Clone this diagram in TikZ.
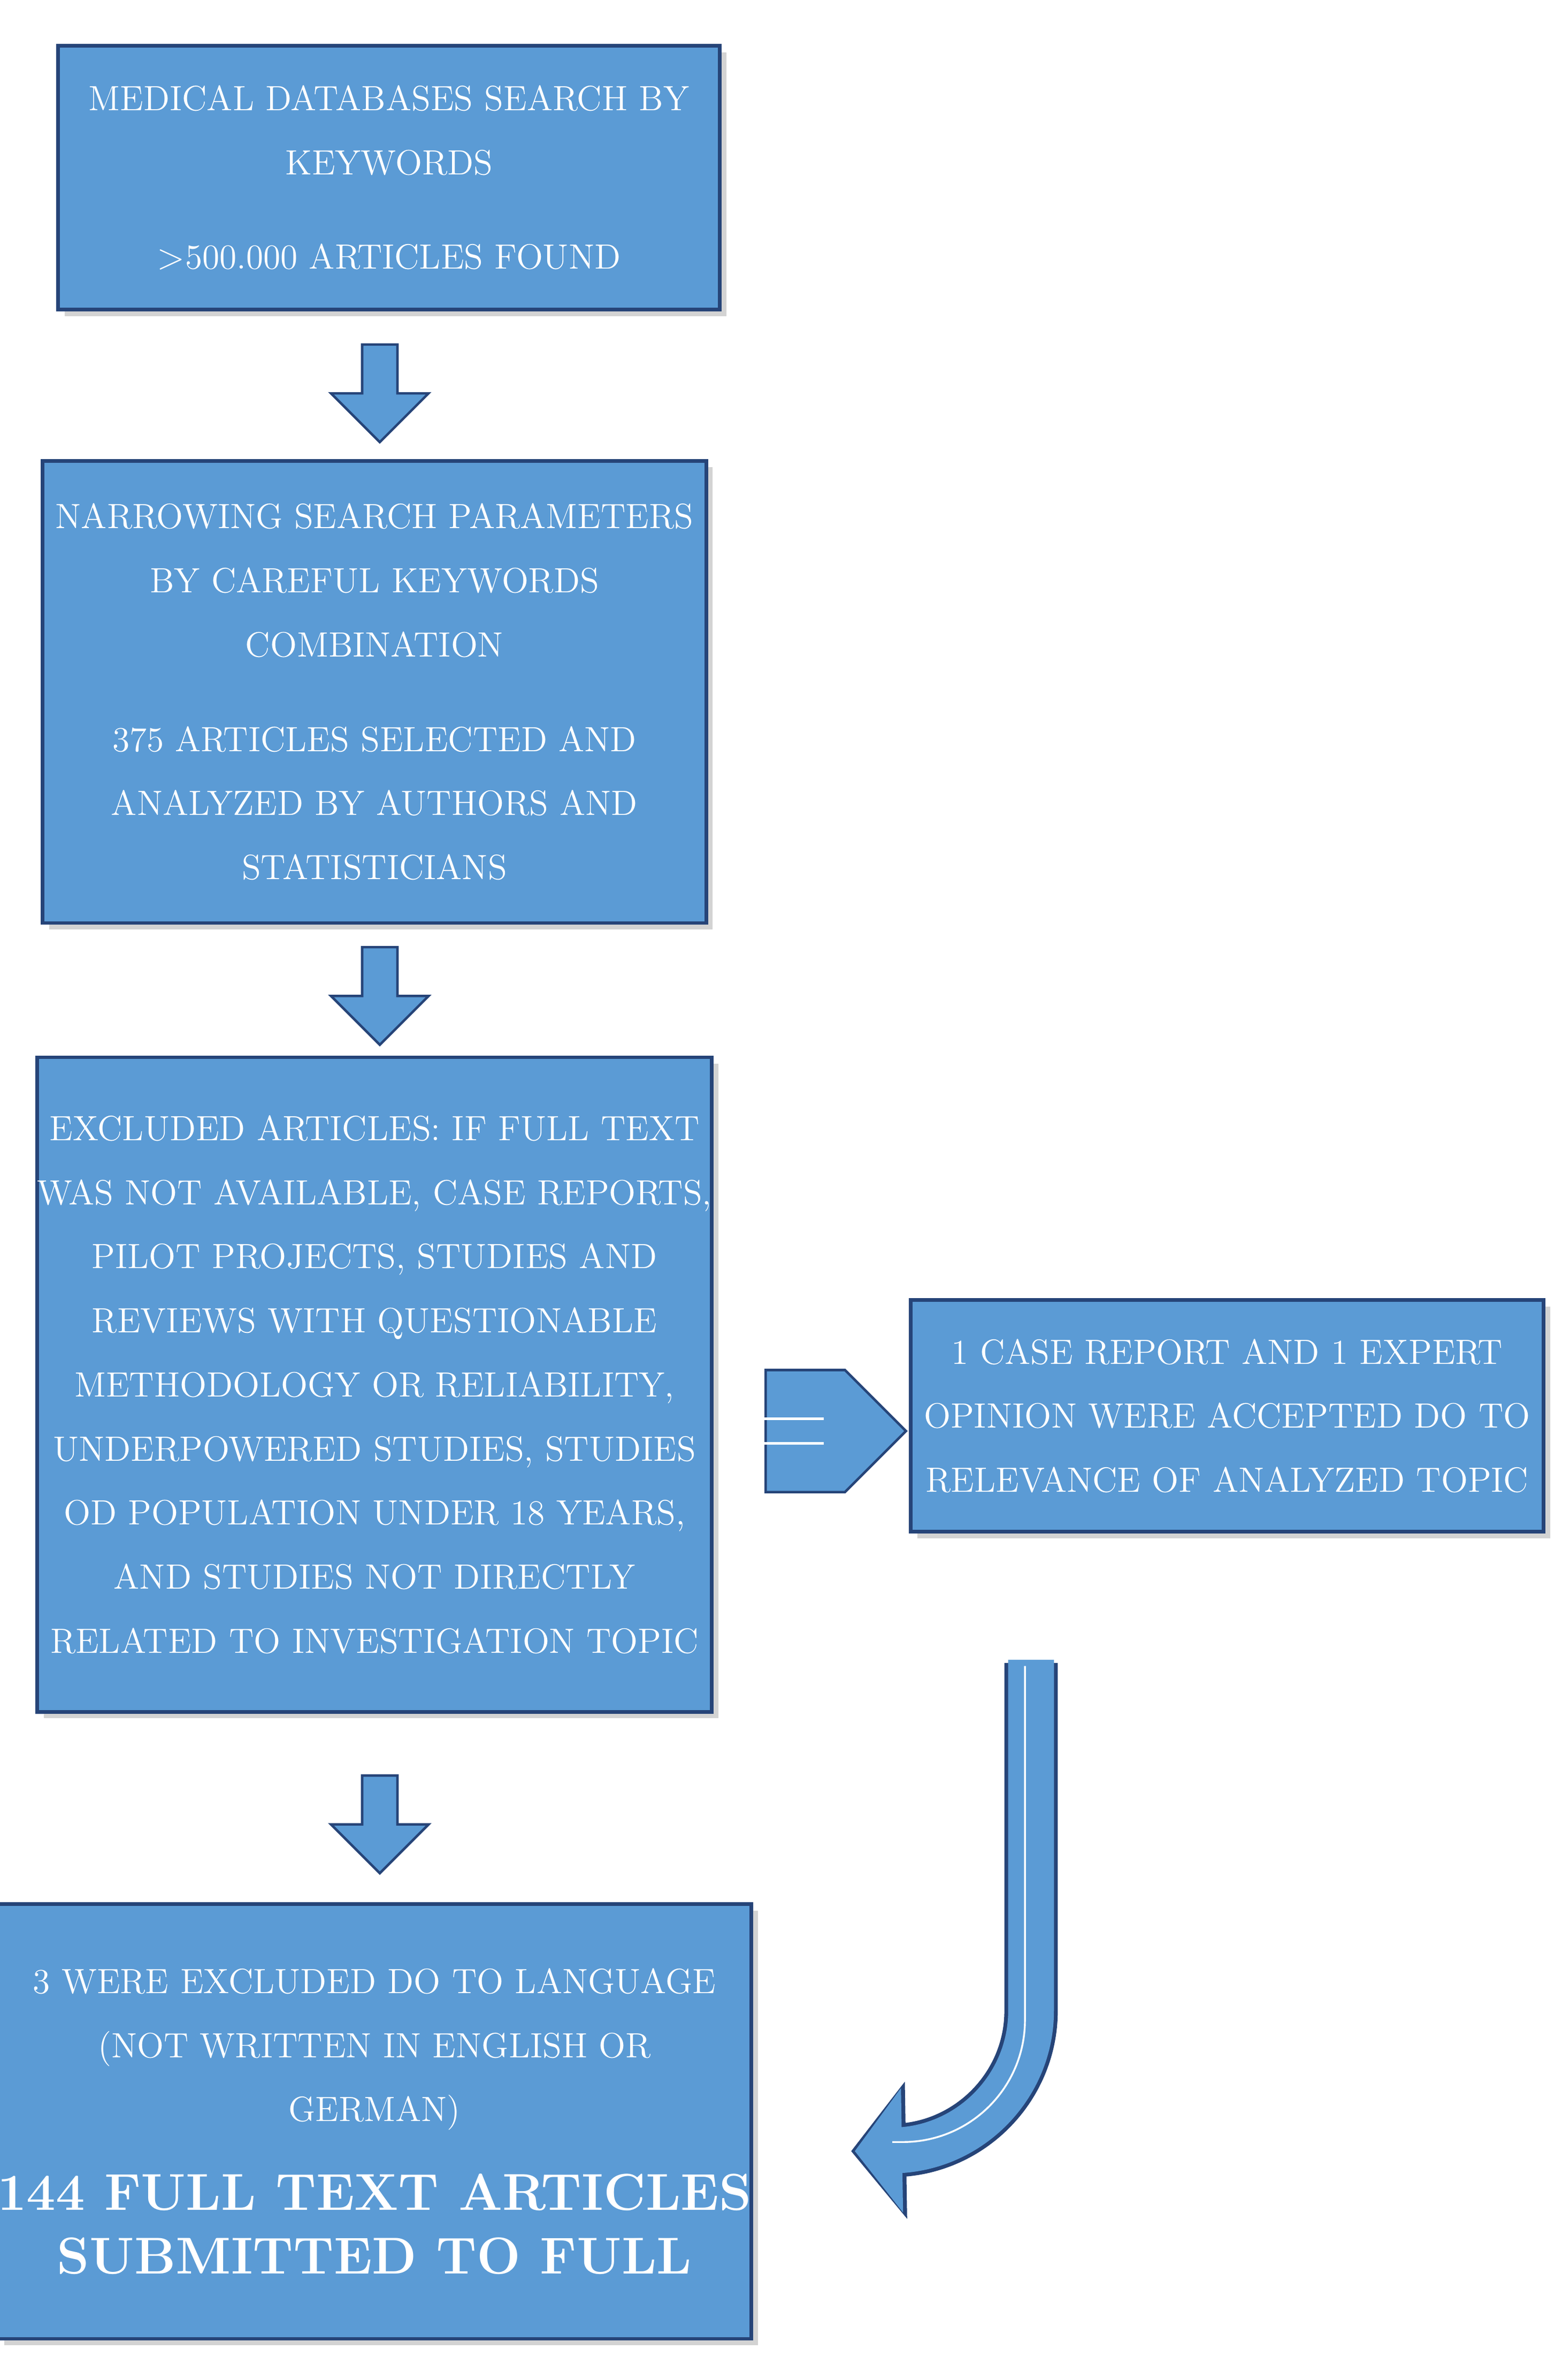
\documentclass[tikz,border=0pt]{standalone}
\usepackage{tikz}
\usetikzlibrary{shapes.arrows,arrows.meta,shadows}
\definecolor{boxblue}{RGB}{91,155,213}
\definecolor{edgeblue}{RGB}{38,68,120}
\tikzset{
  stepbox/.style={draw=edgeblue,line width=1.2pt,fill=boxblue,text=white,align=center,
    inner sep=0pt,font=\fontsize{11.5}{21}\selectfont,drop shadow={opacity=0.35}},
  downarrow/.style={single arrow,draw=edgeblue,line width=0.8pt,fill=boxblue,shape border rotate=270,
    minimum width=32pt,single arrow head extend=6pt,single arrow tip angle=90,minimum height=32pt,inner sep=3pt},
}
\begin{document}
\begin{tikzpicture}[x=0.5pt,y=-0.5pt]
\useasboundingbox (0,0) rectangle (1024,1560);

% boxes
\node[stepbox,minimum width=217pt,minimum height=86.5pt] (search) at (255,116.5)
  {MEDICAL DATABASES SEARCH BY\\KEYWORDS\\[10pt]${>}$500.000 ARTICLES FOUND};
\node[stepbox,minimum width=217.5pt,minimum height=151.5pt] (narrow) at (245.5,453.5)
  {NARROWING SEARCH PARAMETERS\\BY CAREFUL KEYWORDS\\COMBINATION\\[10pt]375 ARTICLES SELECTED AND\\ANALYZED BY AUTHORS AND\\STATISTICIANS};
\node[stepbox,minimum width=217.5pt,minimum height=214.5pt] (excl) at (245.5,907.5)
  {EXCLUDED ARTICLES: IF FULL TEXT\\WAS NOT AVAILABLE, CASE REPORTS,\\PILOT PROJECTS, STUDIES AND\\REVIEWS WITH QUESTIONABLE\\METHODOLOGY OR RELIABILITY,\\UNDERPOWERED STUDIES, STUDIES\\OD POPULATION UNDER 18 YEARS,\\AND STUDIES NOT DIRECTLY\\RELATED TO INVESTIGATION TOPIC};
\node[stepbox,minimum width=207.5pt,minimum height=76pt] (accept) at (804.5,928)
  {1 CASE REPORT AND 1 EXPERT\\OPINION WERE ACCEPTED DO TO\\RELEVANCE OF ANALYZED TOPIC};
\node[stepbox,minimum width=217.5pt,minimum height=142.5pt] (final) at (245.5,1390.5)
  {3 WERE EXCLUDED DO TO LANGUAGE\\(NOT WRITTEN IN ENGLISH OR\\GERMAN)\\[8pt]
   {\fontsize{17}{29}\selectfont\bfseries 144 FULL TEXT ARTICLES}\\{\fontsize{17}{29}\selectfont\bfseries SUBMITTED TO FULL}};

% block arrows
\node[downarrow] (a1) at (249,252) {};
\node[downarrow] (a2) at (249,647) {};
\node[downarrow] (a3) at (249,1190) {};
\node[single arrow,draw=edgeblue,line width=0.8pt,fill=boxblue,minimum width=40pt,
  single arrow head extend=0pt,minimum height=46pt,inner sep=6pt] (a4) at (528,938) {};
\draw[white,line width=0.8pt] (490,930) -- (540,930) (490,946) -- (540,946);

% bent arrow back to the final box
\coordinate (bendtop) at (676,1090);
\coordinate (bendtip) at (558,1410);
\draw[edgeblue,line width=17.5pt,-{Triangle[length=18pt,width=44pt]},rounded corners=45pt]
  (bendtop) -- (676,1408) -- (bendtip);
\draw[boxblue,line width=15pt,-{Triangle[length=15.5pt,width=40pt]},rounded corners=45pt,shorten >=1.2pt]
  ([yshift=1pt]bendtop) -- (676,1408) -- (bendtip);
\draw[white,line width=0.6pt,rounded corners=40pt] (672,1092) -- (672,1404) -- (585,1404);
\end{tikzpicture}
\end{document}
